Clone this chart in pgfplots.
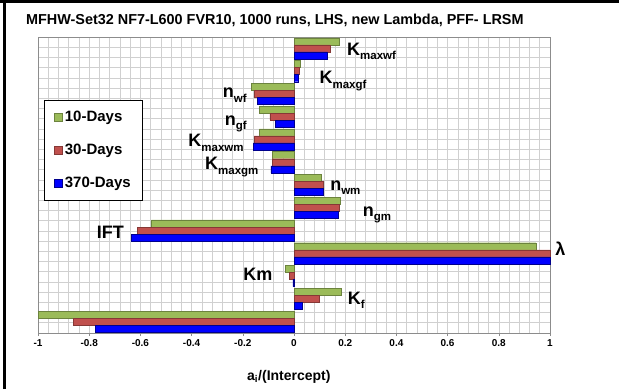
\documentclass[border=0pt]{standalone}
\usepackage{pgfplots}
\pgfplotsset{compat=1.18}
\usepackage{fontspec}
\setmainfont{Liberation Sans}

\definecolor{tenD}{RGB}{155,187,89}
\definecolor{thirtyD}{RGB}{192,80,77}
\definecolor{yearD}{RGB}{0,0,255}
\definecolor{gridgray}{RGB}{208,208,208}

% parameter name with a lowered subscript
\newcommand{\sub}[2]{#1\raisebox{-4.5pt}{\fontsize{11.5}{12}\selectfont #2}}

\begin{document}
\begin{tikzpicture}
\useasboundingbox (0pt,0pt) rectangle (619pt,389pt);
\draw[line width=3pt] (0pt,387.5pt) -- (619pt,387.5pt);
\draw[line width=3pt] (4.5pt,0pt) -- (4.5pt,389pt);
\node[anchor=base west, inner sep=0pt, font=\bfseries\fontsize{14.4}{16}\selectfont]
  at (26pt,364pt) {MFHW-Set32 NF7-L600 FVR10, 1000 runs, LHS, new Lambda, PFF- LRSM};

\begin{axis}[
  at={(38pt,56pt)}, anchor=south west,
  width=512pt, height=296pt, scale only axis,
  xbar, bar width=0.31,
  xmin=-1, xmax=1, ymin=-0.5, ymax=12.5, y dir=reverse,
  xtick={-1,-0.8,-0.6,-0.4,-0.2,0,0.2,0.4,0.6,0.8,1},
  minor x tick num=4,
  ytick={-0.0517,0.3966,0.8448,1.2931,1.7414,2.1897,2.6379,3.0862,3.5345,3.9828,
         4.4310,4.8793,5.3276,5.7759,6.2241,6.6724,7.1207,7.5690,8.0172,8.4655,
         8.9138,9.3621,9.8103,10.2586,10.7069,11.1552,11.6034,12.0517},
  yticklabels={},
  ytick style={draw=none},
  xmajorgrids, xminorgrids, ymajorgrids,
  major grid style={gridgray, line width=0.6pt},
  minor grid style={gridgray, line width=0.6pt},
  axis line style={black!45, line width=0.6pt},
  tick align=outside, major tick length=3pt, minor tick length=0pt,
  xtick pos=bottom, ytick pos=left,
  xtick style={black!45, line width=0.6pt},
  ticklabel style={font=\bfseries\fontsize{10}{10}\selectfont},
  /pgf/number format/assume math mode=true,
  xlabel={a\textsubscript{i}/(Intercept)},
  xlabel style={font=\bfseries\fontsize{14}{14}\selectfont,
    at={(axis description cs:0.49,-0.159)}, anchor=base},
  clip=false,
  legend style={at={(axis description cs:0.0117,0.787)}, anchor=north west,
    draw=black, line width=0.9pt, fill=white,
    font=\bfseries\fontsize{15}{15}\selectfont,
    row sep=17pt, inner xsep=10pt, inner ysep=9pt,
    /tikz/every even column/.append style={column sep=2pt}},
  legend cell align=left,
  legend image code/.code={\draw[#1, line width=0.4pt] (0pt,-4pt) rectangle (8pt,4pt);},
]
% 10-Days
\addplot[bar shift=-0.31, fill=tenD, draw=tenD!70!black, line width=0.4pt]
  coordinates {(0.176,0) (0.023,1) (-0.167,2) (-0.135,3) (-0.135,4) (-0.084,5)
               (0.105,6) (0.179,7) (-0.557,8) (0.945,9) (-0.034,10) (0.184,11) (-1.0,12)};
% 30-Days
\addplot[bar shift=0, fill=thirtyD, draw=thirtyD!70!black, line width=0.4pt]
  coordinates {(0.141,0) (0.020,1) (-0.155,2) (-0.094,3) (-0.156,4) (-0.084,5)
               (0.113,6) (0.176,7) (-0.611,8) (1.0,9) (-0.019,10) (0.099,11) (-0.862,12)};
% 370-Days
\addplot[bar shift=0.31, fill=yearD, draw=yearD!55!black, line width=0.4pt]
  coordinates {(0.130,0) (0.017,1) (-0.142,2) (-0.074,3) (-0.159,4) (-0.090,5)
               (0.113,6) (0.172,7) (-0.634,8) (1.0,9) (-0.004,10) (0.032,11) (-0.775,12)};
\legend{10-Days, 30-Days, 370-Days}

\begin{scope}[every node/.style={inner sep=0pt, font=\bfseries\fontsize{18}{18}\selectfont}]
\node[anchor=base west] at (axis cs:0.207,0.31)  {\sub{K}{maxwf}};
\node[anchor=base west] at (axis cs:0.099,1.55)  {\sub{K}{maxgf}};
\node[anchor=base east] at (axis cs:-0.184,2.16) {\sub{n}{wf}};
\node[anchor=base east] at (axis cs:-0.184,3.37) {\sub{n}{gf}};
\node[anchor=base east] at (axis cs:-0.196,4.31) {\sub{K}{maxwm}};
\node[anchor=base east] at (axis cs:-0.138,5.33) {\sub{K}{maxgm}};
\node[anchor=base west] at (axis cs:0.141,6.22)  {\sub{n}{wm}};
\node[anchor=base west] at (axis cs:0.268,7.38)  {\sub{n}{gm}};
\node[anchor=base east] at (axis cs:-0.664,8.35) {IFT};
\node[anchor=base west] at (axis cs:1.02,9.11)   {λ};
\node[anchor=base east] at (axis cs:-0.084,10.2) {Km};
\node[anchor=base west] at (axis cs:0.21,11.24)  {\sub{K}{f}};
\end{scope}
\end{axis}
\end{tikzpicture}
\end{document}
